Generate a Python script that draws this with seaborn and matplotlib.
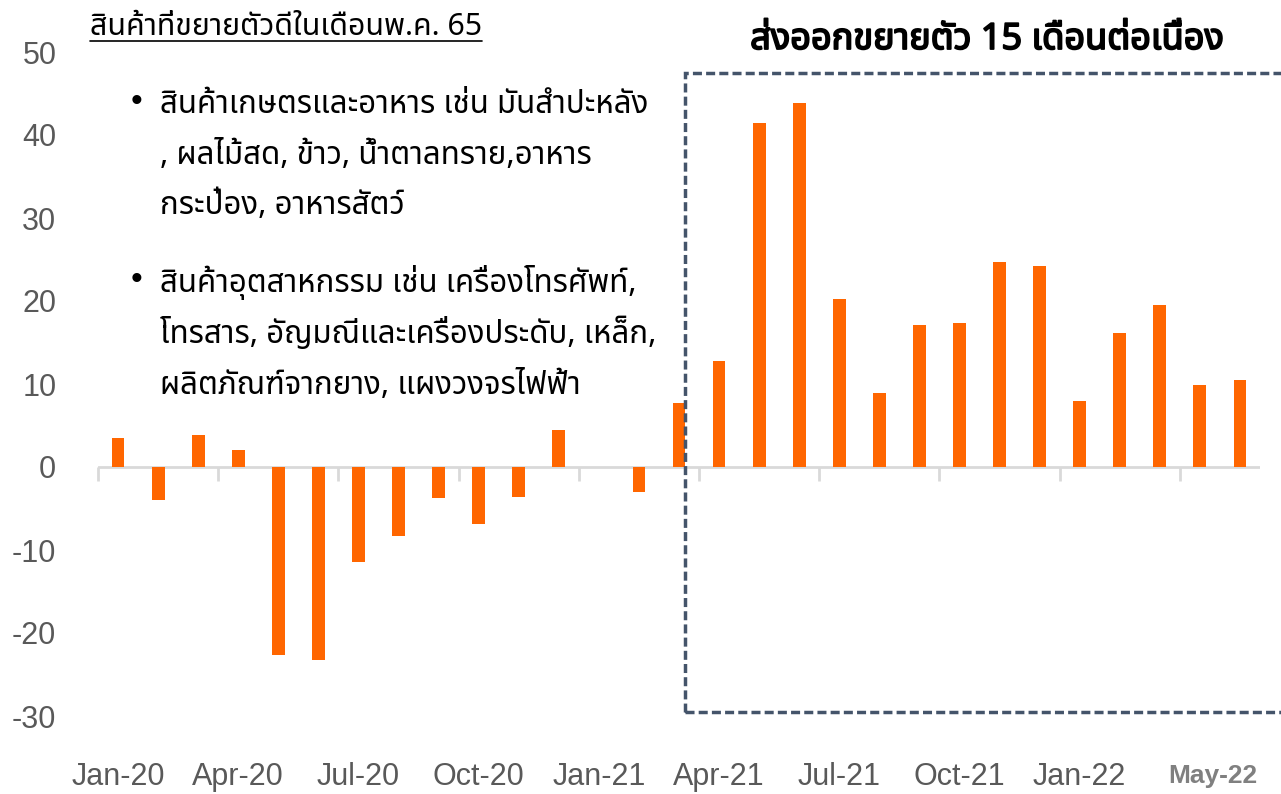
import matplotlib
matplotlib.use("Agg")
import matplotlib.pyplot as plt
import matplotlib.patheffects as pe
import seaborn as sns
import numpy as np
import pandas as pd
from matplotlib import font_manager
from matplotlib.patches import Rectangle
from matplotlib.lines import Line2D
from matplotlib.transforms import IdentityTransform, ScaledTranslation

# ---------------- data ----------------
months = ["Jan-20", "Feb-20", "Mar-20", "Apr-20", "May-20", "Jun-20", "Jul-20", "Aug-20",
          "Sep-20", "Oct-20", "Nov-20", "Dec-20", "Jan-21", "Feb-21", "Mar-21", "Apr-21",
          "May-21", "Jun-21", "Jul-21", "Aug-21", "Sep-21", "Oct-21", "Nov-21", "Dec-21",
          "Jan-22", "Feb-22", "Mar-22", "Apr-22", "May-22"]
growth = [3.5, -4.0, 3.8, 2.0, -22.6, -23.2, -11.5, -8.3,
          -3.7, -6.9, -3.6, 4.5, 0.0, -3.0, 7.7, 12.8,
          41.4, 43.8, 20.3, 8.9, 17.1, 17.3, 24.7, 24.2,
          8.0, 16.2, 19.5, 9.9, 10.5]
label_months = ["Jan-20", "Apr-20", "Jul-20", "Oct-20", "Jan-21", "Apr-21", "Jul-21",
                "Oct-21", "Jan-22", "May-22"]
y_ticks = [-30, -20, -10, 0, 10, 20, 30, 40, 50]

title_text = "ส่งออกขยายตัว 15 เดือนต่อเนื่อง"
heading_text = "สินค้าที่ขยายตัวดีในเดือนพ.ค. 65"
bullet1_lines = ["สินค้าเกษตรและอาหาร เช่น มันสำปะหลัง",
                 ", ผลไม้สด, ข้าว, น้ำตาลทราย,อาหาร",
                 "กระป๋อง, อาหารสัตว์"]
bullet2_lines = ["สินค้าอุตสาหกรรม เช่น เครื่องโทรศัพท์,",
                 "โทรสาร, อัญมณีและเครื่องประดับ, เหล็ก,",
                 "ผลิตภัณฑ์จากยาง, แผงวงจรไฟฟ้า"]

# ---------------- fonts ----------------
def find_thai_fonts():
    found = []
    try:
        from fontTools.ttLib import TTFont
    except Exception:
        return found
    seen = set()
    for f in font_manager.fontManager.ttflist:
        if f.name in seen:
            continue
        try:
            tt = TTFont(f.fname, fontNumber=0, lazy=True)
            cmap = tt.getBestCmap()
            if cmap and 0x0E01 in cmap and 0x0E49 in cmap and 0x0E2A in cmap:
                found.append(f.name)
                seen.add(f.name)
        except Exception:
            pass
    return found

thai = find_thai_fonts()
pref = ["Noto Sans Thai", "Noto Sans Thai UI", "Loma", "Garuda", "Sarabun", "Tlwg Typo",
        "Kinnari", "Norasi", "FreeSans", "FreeSerif"]
thai_sorted = [p for p in pref if p in thai] + [t for t in thai if t not in pref]

sns.set_theme(style="white")
families = thai_sorted + ["Liberation Sans", "DejaVu Sans"]
plt.rcParams["font.family"] = families
latin = ["Liberation Sans", "DejaVu Sans"]

# ---------------- figure ----------------
W, H = 1281, 794
fig = plt.figure(figsize=(W / 100, H / 100), dpi=100)
ax = fig.add_axes([98 / W, 1 - 716 / H, (1260 - 98) / W, (716 - 52) / H])

df = pd.DataFrame({"month": months, "growth": growth})
sns.barplot(data=df, x="month", y="growth", color="#FF6600", saturation=1,
            width=0.32, ax=ax, linewidth=0, zorder=3)

ax.set_xlim(-0.5, len(months) - 0.5)
ax.set_ylim(-30, 50)
ax.set_xlabel("")
ax.set_ylabel("")
for s in ax.spines.values():
    s.set_visible(False)

ax.set_yticks(y_ticks)
ax.set_yticklabels([str(v) for v in y_ticks], family=latin, fontsize=22, color="#595959")
ax.tick_params(axis="y", length=0, pad=30)

pos = [months.index(m) for m in label_months]
ax.set_xticks(pos)
ax.set_xticklabels(label_months, family=latin, fontsize=22, color="#595959")
ax.tick_params(axis="x", length=0, pad=33)
last = ax.get_xticklabels()[-1]
last.set_fontweight("bold")
last.set_fontsize(19)
last.set_color("#808080")
last.set_transform(last.get_transform() + ScaledTranslation(-27 / 100, -2 / 100, fig.dpi_scale_trans))
ax.grid(False)

# zero line with boundary ticks
ax.axhline(0, color="#d9d9d9", lw=2, zorder=2)
sec = ax.secondary_xaxis(30 / 80)
sec.set_xticks([i - 0.5 for i in range(0, len(months), 3)])
sec.set_xticklabels([])
sec.tick_params(axis="x", direction="out", length=10, width=2, color="#d9d9d9")
for s in sec.spines.values():
    s.set_visible(False)

# dashed highlight box
rect = Rectangle((14.14, -29.5), 20, 77.0, fill=False, edgecolor="#44546A",
                 lw=2.5, linestyle=(0, (2.6, 1.2)), clip_on=False, zorder=4)
ax.add_patch(rect)

# title (bold emulated with stroke)
fig.text(987 / W, 1 - 40 / H, title_text, ha="center", va="center",
         fontsize=26, fontweight="bold", color="black",
         path_effects=[pe.withStroke(linewidth=1.3, foreground="black")])

# heading (underlined)
head = fig.text(90 / W, 1 - 27 / H, heading_text, ha="left", va="center",
                fontsize=21.8, color="black")

# bullets
ys1 = [105, 155, 205]
ys2 = [283, 333, 385]
for lines, ys in ((bullet1_lines, ys1), (bullet2_lines, ys2)):
    fig.text(131 / W, 1 - (ys[0] - 3) / H, "•", ha="left", va="center",
             fontsize=24, color="black", family=latin)
    for t, y in zip(lines, ys):
        fig.text(160 / W, 1 - y / H, t, ha="left", va="center", fontsize=22.5, color="black")

fig.canvas.draw()
bb = head.get_window_extent()
fig.add_artist(Line2D([bb.x0, bb.x1], [bb.y0 + 1, bb.y0 + 1], transform=IdentityTransform(),
                      color="black", lw=1.2))

fig.savefig("out.png", dpi=100, facecolor="white")
